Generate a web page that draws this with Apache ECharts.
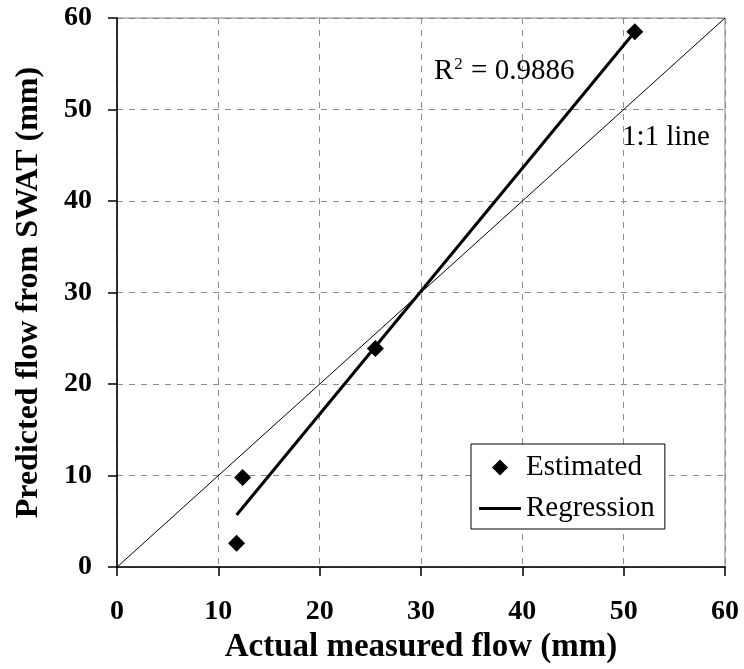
<!DOCTYPE html>
<html>
<head>
<meta charset="utf-8">
<script src="https://cdn.jsdelivr.net/npm/echarts@6/dist/echarts.min.js"></script>
<style>
html,body{margin:0;padding:0;background:#fff;}
#main{width:744px;height:669px;}
</style>
</head>
<body>
<div id="main"></div>
<script>
// Data
var estimatedX = [11.8, 12.4, 25.5, 51.1];
var estimatedY = [2.6, 9.8, 23.9, 58.5];
var regressionX = [11.8, 51.1];
var regressionY = [5.7, 58.5];
var oneToOneX = [0, 60];
var oneToOneY = [0, 60];
var axisTicks = [0, 10, 20, 30, 40, 50, 60];
var r2Label = '0.9886';

function pairs(xs, ys) { return xs.map(function (x, i) { return [x, ys[i]]; }); }

var FONT = '"Liberation Serif", "Times New Roman", serif';
var chart = echarts.init(document.getElementById('main'));
chart.setOption({
  backgroundColor: '#fff',
  animation: false,
  grid: { left: 117, right: 19, top: 18, bottom: 95, show: true, borderColor: '#808080', borderWidth: 1, backgroundColor: 'transparent' },
  xAxis: {
    type: 'value', min: axisTicks[0], max: axisTicks[axisTicks.length - 1], interval: 10,
    name: 'Actual measured flow (mm)', nameLocation: 'middle', nameGap: 58,
    nameTextStyle: { fontFamily: FONT, fontWeight: 'bold', fontSize: 33, color: '#000' },
    axisLine: { show: true, lineStyle: { color: '#000', width: 1.5 } },
    axisTick: { show: true, inside: false, length: 9, lineStyle: { color: '#000', width: 1.5 } },
    axisLabel: { fontFamily: FONT, fontWeight: 'bold', fontSize: 28, color: '#000', margin: 31 },
    splitLine: { show: true, lineStyle: { color: '#8c8c8c', type: [6, 6], width: 1 } }
  },
  yAxis: {
    type: 'value', min: axisTicks[0], max: axisTicks[axisTicks.length - 1], interval: 10,
    name: 'Predicted flow from SWAT (mm)', nameLocation: 'middle', nameGap: 72,
    nameTextStyle: { fontFamily: FONT, fontWeight: 'bold', fontSize: 32, color: '#000' },
    axisLine: { show: true, lineStyle: { color: '#000', width: 1.5 } },
    axisTick: { show: true, inside: false, length: 9, lineStyle: { color: '#000', width: 1.5 } },
    axisLabel: { fontFamily: FONT, fontWeight: 'bold', fontSize: 28, color: '#000', margin: 25 },
    splitLine: { show: true, lineStyle: { color: '#8c8c8c', type: [6, 6], width: 1 } }
  },
  legend: {
    data: [
      { name: 'Estimated', icon: 'path://M0 0 M42 16 M13 8 L21 0 L29 8 L21 16 Z' },
      { name: 'Regression', icon: 'path://M0 0 M42 16 M0 6.5 L42 6.5 L42 9.5 L0 9.5 Z' }
    ],
    orient: 'vertical', left: 471, top: 444,
    padding: [8, 10, 5, 8], itemGap: 10, itemWidth: 42, itemHeight: 16,
    borderColor: '#000', borderWidth: 1, backgroundColor: '#fff',
    textStyle: { fontFamily: FONT, fontSize: 29, color: '#000', lineHeight: 31 }
  },
  series: [
    {
      name: '1:1 line', type: 'line', data: pairs(oneToOneX, oneToOneY),
      showSymbol: false, symbol: 'none', lineStyle: { color: '#000', width: 1 }, z: 2, silent: true
    },
    {
      name: 'Regression', type: 'line', data: pairs(regressionX, regressionY),
      showSymbol: false, symbol: 'none', lineStyle: { color: '#000', width: 3 }, itemStyle: { color: '#000' }, z: 3
    },
    {
      name: 'Estimated', type: 'scatter', data: pairs(estimatedX, estimatedY),
      symbol: 'diamond', symbolSize: 17, itemStyle: { color: '#000', opacity: 1 }, z: 4
    }
  ],
  graphic: [
    {
      type: 'text', left: 434, top: 56, z: 10,
      style: {
        text: 'R{s|2} = ' + r2Label,
        font: '29px ' + FONT, fill: '#000',
        rich: { s: { fontFamily: FONT, fontSize: 17, verticalAlign: 'top', lineHeight: 30, padding: [0, 1, 0, 1] } }
      }
    },
    {
      type: 'text', left: 622, top: 123, z: 10,
      style: { text: '1:1 line', font: '29px ' + FONT, fill: '#000' }
    }
  ]
});
</script>
</body>
</html>
